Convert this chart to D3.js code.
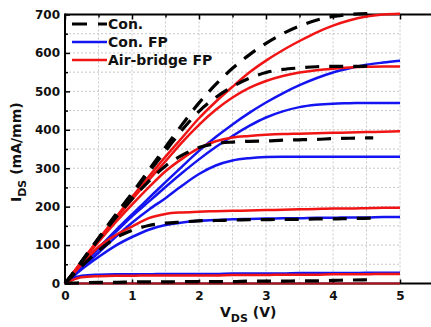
<!DOCTYPE html>
<html><head><meta charset="utf-8">
<script src="https://cdn.jsdelivr.net/npm/d3@7"></script>
<style>
html,body{margin:0;padding:0;background:#fff;}
text{font-family:"DejaVu Sans",sans-serif;font-weight:bold;fill:#111;}
</style></head>
<body>
<script>
// ---- data ----
const vFull = [0,0.1,0.25,0.5,0.75,1,1.25,1.5,1.75,2,2.25,2.5,2.75,3,3.25,3.5,3.75,4,4.25,4.5,4.75,5];
const vCon  = [0,0.1,0.25,0.5,0.75,1,1.25,1.5,1.75,2,2.25,2.5,2.75,3,3.25,3.5,3.75,4,4.25,4.6];

const con1 = [0,22,58,118,178,235,295,355,414,470,518,560,595,625,650,670,685,695,700,703];
const con2 = [0,22,58,117,176,232,290,345,400,448,484,512,534,549,557,561,564,565,565,566];
const con3 = [0,22,56,115,170,220,266,306,334,354,364,368,370,371,373,374,375,377,378,379];
const con4 = [0,18,45,85,118,138,151,157,160,163,164,165,166,166,167,167,168,168,169,170];
const con5 = [0,1,2,3,3,4,4,4,5,5,5,5,6,6,6,7,7,8,9,10];

const fp1 = [0,18,46,92,137,180,222,264,305,345,381,414,444,471,495,516,534,549,560,569,575,580];
const fp2 = [0,18,45,90,133,175,213,251,288,323,355,384,410,432,448,459,465,468,469,470,470,470];
const fp3 = [0,16,40,80,120,158,192,222,255,285,307,320,326,329,330,330,330,330,330,330,330,330];
const fp4 = [0,15,37,69,98,121,140,152,159,163,165,167,168,169,170,170,171,171,172,172,173,173];
const fp5 = [0,12,20,23,24,24,24,25,25,25,25,26,26,26,26,27,27,27,27,28,28,28];

const ab1 = [0,23,58,115,170,225,278,330,380,430,473,512,549,580,607,631,653,671,685,695,700,702];
const ab2 = [0,23,57,112,166,218,269,318,368,413,452,484,509,527,540,549,555,559,562,564,565,565];
const ab3 = [0,22,55,108,158,205,250,292,325,352,370,380,384,387,389,390,391,392,393,394,395,396];
const ab4 = [0,20,50,95,125,148,170,181,185,187,188,189,190,191,192,193,194,195,195,196,197,197];
const ab5 = [0,8,16,19,20,20,21,21,21,21,21,22,22,22,23,23,23,24,24,24,25,25];
const ab6 = [0,0,0,0,0,0,0,0,0,0,0,0,0,0,0,0,0,0,0,0,0,0];

const xTicks = [0,1,2,3,4,5];
const yTicks = [0,100,200,300,400,500,600,700];
const legendLabels = ["Con.","Con. FP","Air-bridge FP"];

// ---- chart ----
const W = 431, H = 327;
const svg = d3.select("body").append("svg").attr("width",W).attr("height",H);
svg.append("rect").attr("width",W).attr("height",H).attr("fill","#fff");

const x = d3.scaleLinear().domain([0,5]).range([65,400]);
const y = d3.scaleLinear().domain([0,700]).range([283.5,14.5]);

// grid
const gx = d3.range(0.5,5.01,0.5), gy = d3.range(50,651,50);
svg.append("g").selectAll("line").data(gx).join("line")
  .attr("x1",d=>x(d)).attr("x2",d=>x(d)).attr("y1",y(0)).attr("y2",y(700))
  .attr("stroke","#c8c8c8").attr("stroke-width",1).attr("stroke-dasharray","2,2");
svg.append("g").selectAll("line").data(gy).join("line")
  .attr("y1",d=>y(d)).attr("y2",d=>y(d)).attr("x1",x(0)).attr("x2",x(5))
  .attr("stroke","#c8c8c8").attr("stroke-width",1).attr("stroke-dasharray","2,2");

// frame lines
svg.append("line").attr("x1",x(0)).attr("x2",W).attr("y1",y(700)).attr("y2",y(700)).attr("stroke","#000").attr("stroke-width",2);
svg.append("line").attr("x1",x(0)).attr("x2",W).attr("y1",y(0)).attr("y2",y(0)).attr("stroke","#000").attr("stroke-width",2);

// axes
const yAx = svg.append("g").attr("transform",`translate(${x(0)},0)`)
  .call(d3.axisLeft(y).tickValues(yTicks).tickSize(-5).tickPadding(5).tickFormat(d3.format("d")));
const yMin = svg.append("g").attr("transform",`translate(${x(0)},0)`)
  .call(d3.axisLeft(y).tickValues(d3.range(50,700,100)).tickSize(-3).tickFormat(""));
const xAx = svg.append("g").attr("transform",`translate(0,${y(0)})`)
  .call(d3.axisBottom(x).tickValues(xTicks).tickSize(-4).tickPadding(8).tickFormat(d3.format("d")));
const xTop = svg.append("g").attr("transform",`translate(0,${y(700)})`)
  .call(d3.axisTop(x).tickValues(xTicks).tickSize(-5).tickFormat(""));
const xTopMin = svg.append("g").attr("transform",`translate(0,${y(700)})`)
  .call(d3.axisTop(x).tickValues(d3.range(0.5,5,1)).tickSize(-3).tickFormat(""));
[yAx,yMin,xAx,xTop,xTopMin].forEach(g=>{
  g.select(".domain").remove();
  g.selectAll(".tick line").attr("stroke","#000").attr("stroke-width",1.5);
  g.selectAll("text").attr("font-size",12).attr("font-family","DejaVu Sans").attr("font-weight","bold").attr("fill","#111");
});
svg.append("line").attr("x1",x(0)).attr("x2",x(0)).attr("y1",y(700)-1).attr("y2",y(0)+1).attr("stroke","#000").attr("stroke-width",2);

// curves
const line = d3.line().x(d=>x(d[0])).y(d=>y(d[1])).curve(d3.curveMonotoneX);
const zipV = (vs,is)=>vs.map((v,i)=>[v,is[i]]);
const blue="#1414f0", red="#f01414";

[fp1,fp2,fp3,fp4,fp5].forEach(s=>{
  svg.append("path").attr("d",line(zipV(vFull,s))).attr("fill","none").attr("stroke",blue).attr("stroke-width",2.5);
});
[ab1,ab2,ab3,ab4,ab5].forEach(s=>{
  svg.append("path").attr("d",line(zipV(vFull,s))).attr("fill","none").attr("stroke",red).attr("stroke-width",2.5);
});
svg.append("path").attr("d",line(zipV(vFull,ab6))).attr("fill","none").attr("stroke","#b0101c").attr("stroke-width",2);
[con1,con2,con3,con4,con5].forEach(s=>{
  svg.append("path").attr("d",line(zipV(vCon,s))).attr("fill","none").attr("stroke","#000")
    .attr("stroke-width",3.2).attr("stroke-dasharray","14,10");
});

// legend
const lg = svg.append("g");
const lgStyles = [{c:"#000",dash:"15,11",w:3.2},{c:blue,dash:null,w:2.5},{c:red,dash:null,w:2.5}];
legendLabels.forEach((t,i)=>{
  const yy = 24 + i*18;
  lg.append("line").attr("x1",72).attr("x2",107).attr("y1",yy).attr("y2",yy)
    .attr("stroke",lgStyles[i].c).attr("stroke-width",lgStyles[i].w)
    .attr("stroke-dasharray",lgStyles[i].dash);
  lg.append("text").attr("x",108).attr("y",yy+5).attr("font-size",14).text(t);
});

// axis titles
const xt = svg.append("text").attr("x",220).attr("y",317).attr("font-size",14);
xt.append("tspan").text("V");
xt.append("tspan").attr("dy",5).attr("font-size",11).text("DS");
xt.append("tspan").attr("dy",-5).text(" (V)");

const yt = svg.append("text").attr("transform","translate(21,202) rotate(-90)").attr("font-size",14);
yt.append("tspan").text("I");
yt.append("tspan").attr("dy",5).attr("font-size",11).text("DS");
yt.append("tspan").attr("dy",-5).text(" (mA/mm)");
</script>
</body></html>
